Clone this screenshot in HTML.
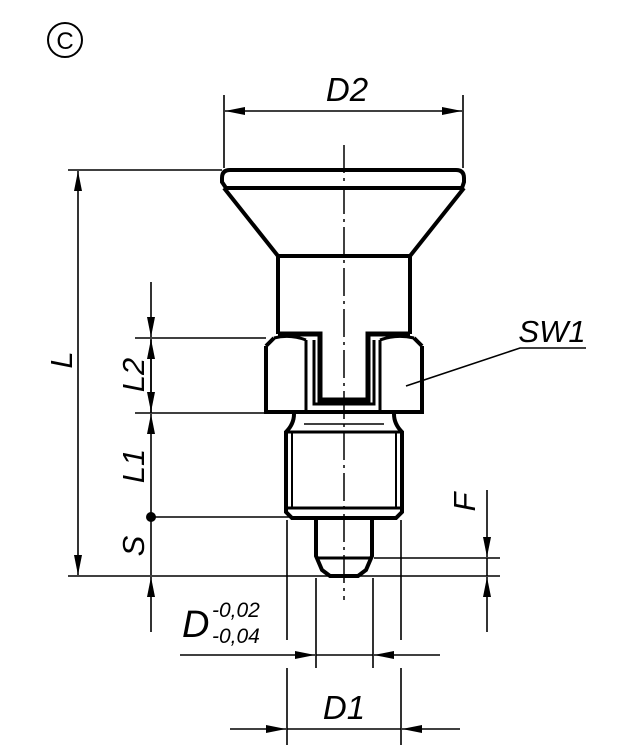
<!DOCTYPE html>
<html><head><meta charset="utf-8"><style>html,body{margin:0;padding:0;background:#fff}svg{display:block}text{font-family:"Liberation Sans",sans-serif;font-style:italic;fill:#000}</style></head>
<body>
<svg width="620" height="750" viewBox="0 0 620 750" xmlns="http://www.w3.org/2000/svg">
<defs>
<marker id="a" viewBox="0 0 20 10" refX="20" refY="5" markerWidth="20" markerHeight="10" markerUnits="userSpaceOnUse" orient="auto"><path d="M0,1 L20,5 L0,9 Z" fill="#000"/></marker>
</defs>
<g stroke="#000" fill="none">
<circle cx="65" cy="40" r="17" stroke-width="2"/>
</g>
<text x="65" y="49" font-size="24" text-anchor="middle" style="font-style:normal">C</text>

<g stroke="#000" stroke-width="2" fill="none">
<path d="M344,145 V600" stroke-width="1.5" stroke-dasharray="28,5,3,5"/>
<path d="M230,170 H456 Q464,170 464,178 V182 L462,188 H226 L222,182 V178 Q222,170 230,170 Z" stroke-width="4"/>
<path d="M224,188 L278,256 H410 L464,188" stroke-width="4"/>
<path d="M278,256 V334 M410,256 V334" stroke-width="4"/>
<path d="M278,334 H320 V400 H368 V334 H410" stroke-width="5"/>
<path d="M314,340 V404 H374 V340" stroke-width="3"/>
<path d="M274,338 Q290,334 306,340 M380,340 Q396,334 414,338" stroke-width="3"/>
<path d="M266,346 L274,338 M414,338 L422,346 M266,346 V412 H422 V346" stroke-width="4"/>
<path d="M306,340 V412 M380,340 V412" stroke-width="3"/>
<path d="M294,414 Q294,424 286,432 V512 L292,518 H396 L402,512 V432 Q394,424 394,414" stroke-width="4"/>
<path d="M286,432 H402 M286,508 H402" stroke-width="3"/>
<path d="M292,432 V508 M396,432 V508" stroke-width="2"/>
<path d="M304,424 H384" stroke-width="1.5"/>
<path d="M316,520 V556 L322,570 L330,576 H358 L366,570 L372,556 V520" stroke-width="4"/>
<path d="M316,558 H372" stroke-width="3"/>
</g>

<g stroke="#000" stroke-width="1.6" fill="none">
<path d="M224,95 V168 M463,95 V168"/>
<path d="M344,111 H225" marker-end="url(#a)"/><path d="M344,111 H462" marker-end="url(#a)"/>
<path d="M68,170 H222 M68,576 H500"/>
<path d="M78,360 V171" marker-end="url(#a)"/><path d="M78,360 V575" marker-end="url(#a)"/>
<path d="M135,338 H266 M135,413 H266 M151,517 H290"/>
<path d="M151,282 V337" marker-end="url(#a)"/>
<path d="M151,340 V413"/>
<path d="M151,375 V339" marker-end="url(#a)"/><path d="M151,375 V412" marker-end="url(#a)"/>
<path d="M151,465 V414" marker-end="url(#a)"/><path d="M151,465 V517"/>
<path d="M151,517 V575"/>
<path d="M151,632 V577" marker-end="url(#a)"/>
<path d="M374,558 H500"/>
<path d="M487,490 V557" marker-end="url(#a)"/>
<path d="M487,632 V577" marker-end="url(#a)"/>
<path d="M487,558 V576"/>
<path d="M316,578 V668 M373,578 V668"/>
<path d="M180,655 H315" marker-end="url(#a)"/>
<path d="M440,655 H374" marker-end="url(#a)"/>
<path d="M316,655 H373"/>
<path d="M287,520 V640 M287,668 V745 M401,520 V640 M401,668 V745"/>
<path d="M230,729 H286" marker-end="url(#a)"/>
<path d="M460,729 H402" marker-end="url(#a)"/>
<path d="M287,729 H401"/>
<path d="M406,386 L520,348 H586"/>
</g>
<circle cx="151" cy="517" r="5" fill="#000"/>

<text x="347" y="101" font-size="33" text-anchor="middle">D2</text>
<text x="552" y="342" font-size="31" text-anchor="middle">SW1</text>
<text transform="translate(72,360) rotate(-90)" font-size="31" text-anchor="middle">L</text>
<text transform="translate(144,375) rotate(-90)" font-size="31" text-anchor="middle">L2</text>
<text transform="translate(144,466) rotate(-90)" font-size="31" text-anchor="middle">L1</text>
<text transform="translate(144,546) rotate(-90)" font-size="31" text-anchor="middle">S</text>
<text transform="translate(475,502) rotate(-90)" font-size="31" text-anchor="middle">F</text>
<text x="182" y="637" font-size="38">D</text>
<text x="212" y="617" font-size="21">-0,02</text>
<text x="212" y="643" font-size="21">-0,04</text>
<text x="344" y="719" font-size="33" text-anchor="middle">D1</text>
</svg>
</body></html>
